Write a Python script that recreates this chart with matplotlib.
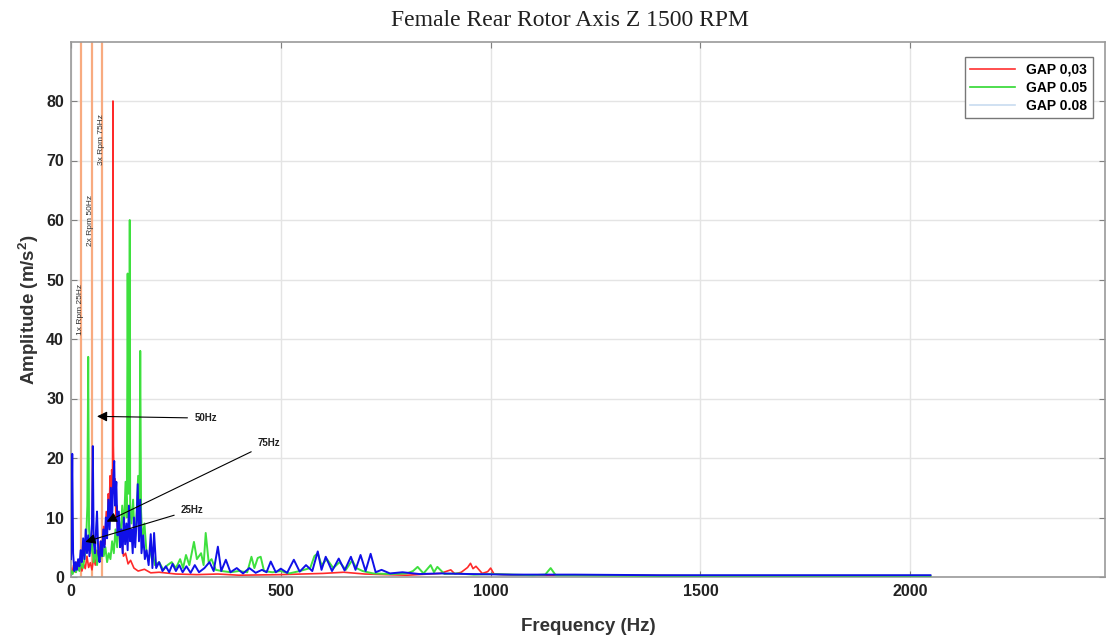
import matplotlib
matplotlib.use("Agg")
import matplotlib.pyplot as plt
from matplotlib.lines import Line2D

# spectrum of each gap (Hz, m/s^2)
red_hz = [0, 3, 6, 10, 14, 18, 22, 26, 30, 34,
          38, 42, 46, 50, 54, 58, 62, 66, 70, 74,
          78, 81, 84, 87, 89, 91, 93, 95, 97, 99,
          100, 101, 103, 105, 107, 109, 111, 114, 117, 121,
          125, 130, 136, 142, 150, 160, 175, 190, 210, 250,
          300, 350, 400, 500, 600, 650, 700, 800, 880, 905,
          915, 930, 945, 952, 958, 965, 980, 993, 1000, 1008,
          1030, 1100, 1300, 1500, 1800, 2048]
red_amp = [1.5, 0.6, 2.0, 0.8, 2.5, 1.2, 3.0, 1.0, 2.2, 1.4,
           3.5, 1.6, 2.4, 1.2, 3.2, 2.0, 4.5, 2.8, 6.0, 4.0,
           8.5, 5.5, 11.0, 8.0, 14.0, 10.0, 17.0, 12.0, 18.0, 15.0,
           80.0, 22.0, 14.0, 16.5, 10.0, 12.0, 7.0, 8.5, 5.0, 6.0,
           3.5, 4.0, 2.2, 2.8, 1.5, 1.0, 1.3, 0.7, 0.8, 0.5,
           0.4, 0.5, 0.3, 0.4, 0.6, 0.8, 0.5, 0.3, 0.6, 1.2,
           0.5, 0.8, 1.6, 2.3, 1.4, 1.8, 0.6, 0.9, 1.5, 0.5,
           0.4, 0.3, 0.3, 0.2, 0.2, 0.2]

green_hz = [0, 4, 8, 12, 16, 20, 24, 28, 32, 36,
            39, 41, 43, 46, 50, 54, 58, 62, 66, 70,
            74, 78, 82, 86, 90, 94, 98, 102, 106, 110,
            114, 118, 122, 126, 130, 133, 135, 137, 139, 140,
            141, 144, 148, 152, 156, 160, 163, 165, 167, 170,
            175, 180, 186, 192, 200, 210, 220, 230, 240, 250,
            260, 267, 274, 282, 293, 300, 310, 316, 321, 328,
            335, 345, 360, 380, 400, 420, 430, 437, 445, 452,
            460, 480, 500, 520, 545, 570, 580, 588, 597, 610,
            625, 640, 655, 670, 680, 695, 720, 760, 800, 815,
            826, 840, 857, 865, 873, 890, 920, 960, 1000, 1050,
            1100, 1130, 1143, 1155, 1200, 1400, 1600, 1800, 2048]
green_amp = [1.0, 0.5, 1.5, 0.8, 2.0, 1.0, 2.5, 1.5, 3.0, 6.0,
             12.0, 37.0, 8.0, 4.0, 6.0, 2.5, 5.0, 2.0, 4.0, 3.0,
             6.0, 3.5, 5.0, 2.5, 4.0, 3.0, 6.0, 4.0, 8.0, 5.0,
             10.0, 6.0, 12.0, 8.0, 16.0, 10.0, 51.0, 14.0, 18.0, 60.0,
             12.0, 9.0, 13.0, 6.0, 10.0, 17.0, 9.0, 38.0, 11.0, 6.0,
             9.0, 4.0, 3.0, 5.0, 2.0, 2.5, 1.2, 2.0, 2.5, 1.5,
             3.0, 1.5, 3.7, 2.0, 5.9, 3.0, 4.0, 2.0, 7.4, 2.5,
             3.0, 1.2, 1.0, 0.8, 1.0, 0.8, 3.4, 1.5, 3.2, 3.4,
             1.0, 0.8, 1.0, 0.6, 1.0, 1.5, 3.5, 4.0, 2.0, 3.0,
             1.5, 2.5, 1.2, 2.8, 1.5, 1.0, 0.6, 0.5, 0.6, 1.0,
             1.7, 0.6, 2.0, 0.8, 1.7, 0.5, 0.6, 0.4, 0.5, 0.4,
             0.3, 0.4, 1.5, 0.3, 0.3, 0.2, 0.2, 0.2, 0.2]

blue_hz = [0, 1, 3, 5, 8, 11, 14, 17, 20, 23,
           26, 29, 32, 35, 38, 41, 44, 47, 50, 52,
           54, 57, 60, 62, 65, 68, 71, 74, 77, 80,
           83, 86, 89, 92, 95, 98, 101, 103, 105, 108,
           111, 114, 117, 120, 123, 126, 129, 132, 135, 138,
           141, 144, 147, 150, 153, 156, 159, 162, 165, 168,
           172, 176, 180, 185, 190, 194, 198, 203, 210, 218,
           226, 234, 242, 250, 258, 266, 275, 285, 295, 305,
           318, 330, 340, 350, 358, 369, 380, 395, 410, 425,
           440, 455, 466, 476, 488, 500, 515, 531, 545, 560,
           575, 588, 597, 607, 622, 638, 652, 667, 678, 690,
           702, 714, 726, 740, 760, 790, 830, 880, 950, 1050,
           1200, 1400, 1600, 1800, 2048]
blue_amp = [3.0, 8.0, 20.7, 4.0, 1.0, 2.5, 1.2, 3.0, 1.8, 4.5,
            2.5, 6.5, 3.0, 8.0, 4.0, 7.0, 3.5, 6.0, 9.0, 22.0,
            6.0, 4.0, 8.5, 11.0, 4.0, 2.5, 6.0, 3.5, 8.0, 5.0,
            10.0, 6.5, 13.0, 8.0, 15.0, 10.0, 17.0, 19.5, 12.0, 16.0,
            7.0, 11.0, 5.0, 8.0, 4.0, 10.0, 5.5, 9.0, 4.5, 12.0,
            6.0, 8.0, 4.0, 10.0, 5.0, 9.0, 15.6, 6.0, 13.0, 4.0,
            7.0, 3.0, 4.5, 2.0, 7.2, 1.5, 7.4, 1.5, 2.5, 1.0,
            1.8, 0.8, 2.2, 1.0, 2.0, 0.8, 1.8, 0.7, 2.0, 0.8,
            1.5, 2.5, 1.0, 5.1, 1.0, 2.9, 0.8, 1.5, 0.6, 1.5,
            0.7, 1.2, 0.8, 2.6, 0.8, 1.4, 0.7, 2.9, 0.9, 2.0,
            1.0, 4.3, 1.2, 3.4, 1.0, 3.1, 1.1, 3.4, 1.2, 3.7,
            1.0, 3.9, 0.8, 1.2, 0.6, 0.8, 0.5, 0.6, 0.5, 0.4,
            0.4, 0.3, 0.3, 0.3, 0.3]

# running speed harmonics
rpm_hz = [25, 50, 75]
rpm_labels = ["1x Rpm 25Hz", "2x Rpm 50Hz", "3x Rpm 75Hz"]
rpm_label_y = [45, 60, 73.5]

# arrow notes: (text, arrow tip, text position)
notes = [("50Hz", (62, 27.0), (294, 26.7)),
         ("75Hz", (85, 9.3), (445, 22.5)),
         ("25Hz", (34, 5.9), (262, 11.3))]

legend_labels = ["GAP 0,03", "GAP 0.05", "GAP 0.08"]

plt.rcParams['font.family'] = 'Liberation Sans'
plt.rcParams['mathtext.fontset'] = 'custom'
plt.rcParams['mathtext.rm'] = 'Liberation Sans:bold'
plt.rcParams['mathtext.bf'] = 'Liberation Sans:bold'

fig = plt.figure(figsize=(11.07, 6.37), dpi=100)
ax = fig.add_axes([71 / 1107, 60 / 637, 1034 / 1107, 535.5 / 637])

ax.grid(True, color='#e4e4e4', lw=1.0)
ax.set_axisbelow(True)

for hz in rpm_hz:
    ax.axvline(hz, color='#f8ab80', lw=1.6, zorder=1)
for hz, lab, yy in zip(rpm_hz, rpm_labels, rpm_label_y):
    ax.text(hz - 3.5, yy, lab, rotation=90, fontsize=6, ha='center', va='center',
            color='#303030', zorder=5)

ax.plot(red_hz, red_amp, color='#ff2a2a', lw=1.2, zorder=2)
ax.plot(green_hz, green_amp, color='#3ee03e', lw=1.4, zorder=3)
ax.plot(blue_hz, blue_amp, color='#1010e8', lw=1.4, zorder=4)

for txt, tip, pos in notes:
    ax.annotate(txt, xy=tip, xytext=pos, fontsize=7, fontweight='bold',
                ha='left', va='center', color='#202020', zorder=6,
                arrowprops=dict(arrowstyle='-|>', color='black', lw=0.8,
                                mutation_scale=15, shrinkA=3, shrinkB=0))

ax.set_xlim(0, 2464)
ax.set_ylim(0, 90)
ax.set_xticks([0, 500, 1000, 1500, 2000])
ax.set_yticks(range(0, 90, 10))
ax.tick_params(direction='in', length=4, top=True, right=True, color='#808080',
               labelsize=11.5, labelcolor='#222222', pad=5)
for lab in ax.get_xticklabels() + ax.get_yticklabels():
    lab.set_fontweight('bold')
for sp in ax.spines.values():
    sp.set_color('#9a9a9a')
    sp.set_linewidth(1.2)

ax.set_xlabel("Frequency (Hz)", fontsize=13.5, fontweight='bold', color='#333333', labelpad=14)
ax.set_ylabel(r"Amplitude (m/s$^{2}$)", fontsize=13.5, fontweight='bold', color='#333333', labelpad=4)

fig.text(570 / 1107, 1 - 21 / 637, "Female Rear Rotor Axis Z 1500 RPM",
         family='Liberation Serif', fontsize=17, ha='center', va='center', color='#202020')

handles = [Line2D([], [], color='#ff3030', lw=1.2),
           Line2D([], [], color='#30d830', lw=1.2),
           Line2D([], [], color='#c8dcf0', lw=1.2)]
leg = ax.legend(handles, legend_labels, loc='upper right', bbox_to_anchor=(0.988, 0.971),
                borderaxespad=0, labelspacing=0.3, handlelength=3.2,
                fancybox=False, framealpha=1, edgecolor='#777777',
                prop={'weight': 'bold', 'size': 10})
leg.get_frame().set_linewidth(1.0)

fig.savefig("out.png", dpi=100)
